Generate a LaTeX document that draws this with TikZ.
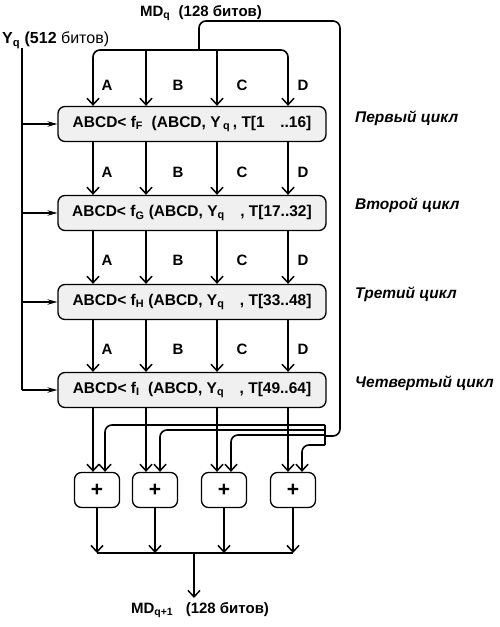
\documentclass[tikz,border=0pt]{standalone}
\usepackage{fontspec}
\setmainfont{Liberation Sans}
\usetikzlibrary{arrows.meta}
\begin{document}
\begin{tikzpicture}[x=1pt,y=-1pt,
  ln/.style={line width=1.6pt},
  arr/.style={ln,-{Straight Barb[length=6.5pt,width=12pt,line width=1.5pt]}},
  yarr/.style={line width=1.1pt,-{Stealth[length=10pt,width=5.5pt,inset=3.5pt]}},
  roundbox/.style={draw,line width=1.3pt,rounded corners=7pt,fill=gray!12,minimum width=268pt,minimum height=35pt,inner sep=0pt,font=\fontsize{15.5}{18}\selectfont\bfseries},
  plusbox/.style={draw,line width=1.3pt,rounded corners=7pt,fill=white,minimum width=45pt,minimum height=35pt,inner sep=0pt,font=\fontsize{21}{22}\selectfont\bfseries},
  lab/.style={font=\fontsize{15}{17}\selectfont\bfseries,inner sep=0pt},
  cyc/.style={font=\fontsize{15.5}{17}\selectfont\bfseries\itshape,anchor=west,inner sep=0pt},
  ttl/.style={font=\fontsize{15}{17}\selectfont\bfseries,inner sep=0pt}]
\useasboundingbox (0,0) rectangle (500,627);

% column coordinates
\coordinate (xA) at (93,0);
\coordinate (xB) at (146,0);
\coordinate (xC) at (217,0);
\coordinate (xD) at (288,0);

% titles
\node[ttl] (mdq) at (201,13) {MD\textsubscript{q}\ \ (128 битов)};
\node[ttl,anchor=west,font=\fontsize{16}{18}\selectfont\bfseries] (yq) at (2,40) {Y\textsubscript{q} (512 \mdseries битов)};

% round boxes
\node[roundbox] (b1) at (192,124) {ABCD< f\textsubscript{F}\ \ (ABCD, Y\,\textsubscript{q}\,, T[1\quad..16]};
\node[roundbox] (b2) at (192,213) {ABCD< f\textsubscript{G}\ (ABCD, Y\textsubscript{q}\quad, T[17..32]};
\node[roundbox] (b3) at (192,302) {ABCD< f\textsubscript{H}\ (ABCD, Y\textsubscript{q}\quad, T[33..48]};
\node[roundbox] (b4) at (192,390) {ABCD< f\textsubscript{I}\ \ (ABCD, Y\textsubscript{q}\quad, T[49..64]};

% cycle labels
\node[cyc] (c1) at (355,118) {Первый цикл};
\node[cyc] (c2) at (355,205) {Второй цикл};
\node[cyc] (c3) at (355,294) {Третий цикл};
\node[cyc] (c4) at (355,383) {Четвертый цикл};

% plus boxes
\node[plusbox] (p1) at (97,490) {+};
\node[plusbox] (p2) at (155,490) {+};
\node[plusbox] (p3) at (224,490) {+};
\node[plusbox] (p4) at (293,490) {+};

% output label
\node[ttl] (out) at (200,610) {MD\textsubscript{q+1}\ \ \ (128 битов)};
\coordinate (outtop) at (194,598);

% top distribution
\coordinate (jn) at (199,50);
\draw[ln,rounded corners=7pt] (jn) |- (340,21) |- (325,436);
\draw[arr,rounded corners=7pt] (jn) -| (b1.north -| xA);
\draw[arr,rounded corners=7pt] (jn) -| (b1.north -| xD);
\draw[arr] (xB |- jn) -- (b1.north -| xB);
\draw[arr] (xC |- jn) -- (b1.north -| xC);

% between boxes
\foreach \u/\v in {b1/b2,b2/b3,b3/b4}{
  \foreach \c in {xA,xB,xC,xD}{
    \draw[arr] (\u.south -| \c) -- (\v.north -| \c);
  }
}
% A-D labels
\foreach \y [count=\i] in {85,172,260,349}{
  \node[lab] (la\i) at (107,\y) {A};
  \node[lab] (lb\i) at (178,\y) {B};
  \node[lab] (lc\i) at (242,\y) {C};
  \node[lab] (ld\i) at (303,\y) {D};
}

% Y bus
\coordinate (ytop) at (22,48);
\coordinate (ybot) at (22,390);
\draw[line width=1.1pt] (ytop) -- (ybot);
\foreach \b in {b1,b2,b3,b4}{
  \draw[yarr] (ytop |- \b.west) -- (\b.west);
}

% box 4 to plus boxes
\draw[arr] (b4.south -| xA) -- (p1.north -| xA);
\draw[arr] (b4.south -| xB) -- (p2.north -| xB);
\draw[arr] (b4.south -| xC) -- (p3.north -| xC);
\draw[arr] (b4.south -| xD) -- (p4.north -| xD);

% feedback from MDq
\coordinate (br1) at (325,425);
\coordinate (br2) at (325,430);
\coordinate (br3) at (325,435);
\coordinate (br4) at (325,445);
\draw[ln] (br1) -- (br4);
\draw[arr,rounded corners=7pt] (br1) -| (p1.north -| 105,0);
\draw[arr,rounded corners=7pt] (br2) -| (p2.north -| 160,0);
\draw[arr,rounded corners=7pt] (br3) -| (p3.north -| 231,0);
\draw[arr,rounded corners=7pt] (br4) -| (p4.north -| 302,0);

% outputs
\coordinate (bl) at (97,553);
\coordinate (brr) at (293,553);
\draw[ln] (bl) -- (brr);
\draw[arr] (p1.south) -- (p1.south |- bl);
\draw[arr] (p2.south) -- (p2.south |- bl);
\draw[arr] (p3.south) -- (p3.south |- bl);
\draw[arr] (p4.south) -- (p4.south |- bl);
\draw[arr] (outtop |- bl) -- (outtop);
\end{tikzpicture}
\end{document}
